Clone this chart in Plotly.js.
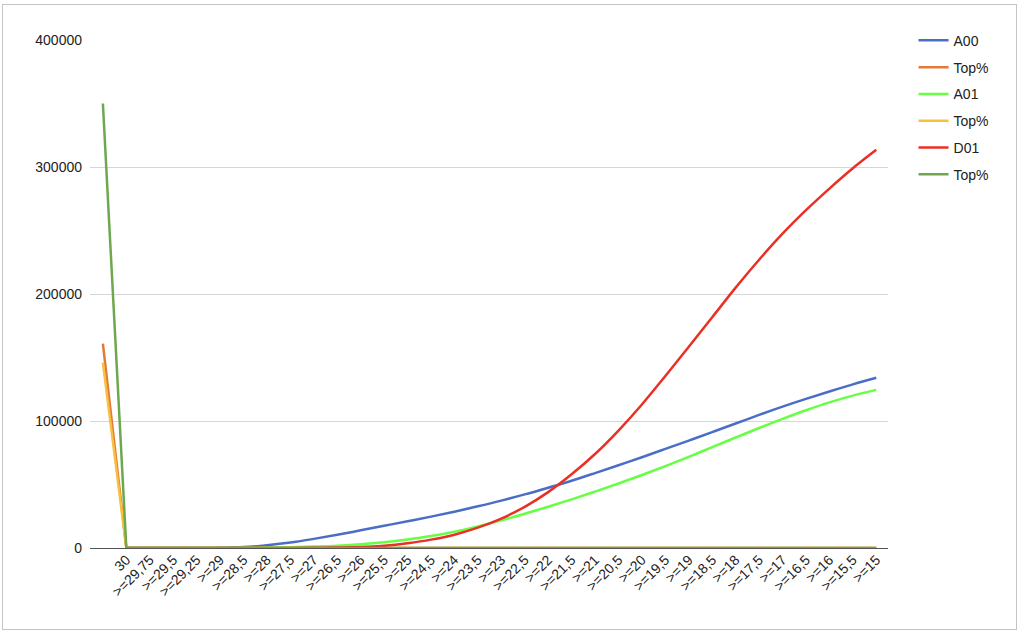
<!DOCTYPE html>
<html>
<head>
<meta charset="utf-8">
<script src="https://cdn.plot.ly/plotly-3.0.1.min.js"></script>
<style>
  html, body { margin: 0; padding: 0; background: #ffffff; }
  #wrap { position: relative; width: 1020px; height: 635px; overflow: hidden; }
  #frame { position: absolute; left: 2px; top: 4px; width: 1015px; height: 626px; border: 1px solid #c4c4c4; box-sizing: border-box; }
  #chart { position: absolute; left: 0; top: 0; width: 1020px; height: 635px; }
</style>
</head>
<body>
<div id="wrap">
  <div id="frame"></div>
  <div id="chart"></div>
</div>
<script>
const categories = ["", "30", ">=29,75", ">=29,5", ">=29,25", ">=29", ">=28,5", ">=28", ">=27,5", ">=27", ">=26,5", ">=26", ">=25,5", ">=25", ">=24,5", ">=24", ">=23,5", ">=23", ">=22,5", ">=22", ">=21,5", ">=21", ">=20,5", ">=20", ">=19,5", ">=19", ">=18,5", ">=18", ">=17,5", ">=17", ">=16,5", ">=16", ">=15,5", ">=15"];

const a00 = [null, 0, 0, 0, 0, 200, 700, 2200, 4300, 7200, 10400, 13900, 17500, 21000, 24700, 28600, 32800, 37300, 42200, 47500, 53000, 59000, 65200, 71500, 78000, 84600, 91300, 98000, 104800, 111300, 117400, 123200, 128800, 134000];
const topA00 = [161000, 0, 0, 0, 0, 0, 0, 0, 0, 0, 0, 0, 0, 0, 0, 0, 0, 0, 0, 0, 0, 0, 0, 0, 0, 0, 0, 0, 0, 0, 0, 0, 0, 0];
const a01 = [null, 0, 0, 0, 0, 0, 100, 300, 600, 1100, 1800, 2900, 4500, 6700, 9400, 12800, 17000, 21800, 27000, 32500, 38300, 44400, 50800, 57500, 64500, 71800, 79400, 87000, 94500, 101700, 108500, 114700, 120000, 124500];
const topA01 = [146000, 0, 0, 0, 0, 0, 0, 0, 0, 0, 0, 0, 0, 0, 0, 0, 0, 0, 0, 0, 0, 0, 0, 0, 0, 0, 0, 0, 0, 0, 0, 0, 0, 0];
const d01 = [null, 0, 0, 0, 0, 0, 0, 0, 0, 100, 300, 700, 1800, 3800, 6600, 10500, 16000, 23200, 32400, 44000, 58000, 74000, 92500, 113000, 135500, 158500, 181700, 205000, 227000, 247500, 266000, 283000, 299000, 313500];
const topD01 = [350000, 0, 0, 0, 0, 0, 0, 0, 0, 0, 0, 0, 0, 0, 0, 0, 0, 0, 0, 0, 0, 0, 0, 0, 0, 0, 0, 0, 0, 0, 0, 0, 0, 0];

const yTicks = [0, 100000, 200000, 300000, 400000];

const idx = categories.map((c, i) => i);

const seriesDefs = [
  {name: "A00", y: a00, color: "#4a6ec6", shape: "spline"},
  {name: "Top%", y: topA00, color: "#e2793b", shape: "linear"},
  {name: "A01", y: a01, color: "#66ff44", shape: "spline"},
  {name: "Top%", y: topA01, color: "#f7c13f", shape: "linear"},
  {name: "D01", y: d01, color: "#ea3025", shape: "spline"},
  {name: "Top%", y: topD01, color: "#6ea84e", shape: "linear"}
];

const traces = seriesDefs.map((s, k) => ({
  type: "scatter",
  mode: "lines",
  x: idx,
  y: s.y,
  name: s.name,
  legendgroup: "g" + k,
  line: {color: s.color, width: 2.5, shape: s.shape, smoothing: 1},
  connectgaps: false,
  hoverinfo: "skip"
}));

const layout = {
  width: 1020,
  height: 635,
  paper_bgcolor: "rgba(0,0,0,0)",
  plot_bgcolor: "rgba(0,0,0,0)",
  margin: {l: 90, r: 132, t: 40, b: 87, pad: 0},
  font: {family: "Liberation Sans, Arial, sans-serif", size: 14, color: "#222222"},
  showlegend: true,
  legend: {
    x: 1.032, y: 1.03, xanchor: "left", yanchor: "top",
    traceorder: "grouped", tracegroupgap: 5.6,
    font: {size: 14, color: "#222222"},
    bgcolor: "rgba(0,0,0,0)",
    itemwidth: 30
  },
  xaxis: {
    type: "linear",
    range: [-0.55, 33.5],
    tickmode: "array",
    tickvals: idx,
    ticktext: categories,
    tickangle: -45,
    ticks: "",
    showgrid: false,
    zeroline: false,
    showline: false,
    tickfont: {size: 14, color: "#222222"},
    fixedrange: true
  },
  yaxis: {
    range: [0, 400000],
    tickmode: "array",
    tickvals: yTicks,
    ticktext: yTicks.map(String),
    showgrid: true,
    gridcolor: "#d6d6d6",
    gridwidth: 1,
    zeroline: true,
    zerolinecolor: "#555555",
    zerolinewidth: 1,
    showline: false,
    ticks: "",
    ticklabelstandoff: 7,
    tickfont: {size: 14, color: "#222222"},
    fixedrange: true
  }
};

Plotly.newPlot("chart", traces, layout, {staticPlot: true, displayModeBar: false});
</script>
</body>
</html>
